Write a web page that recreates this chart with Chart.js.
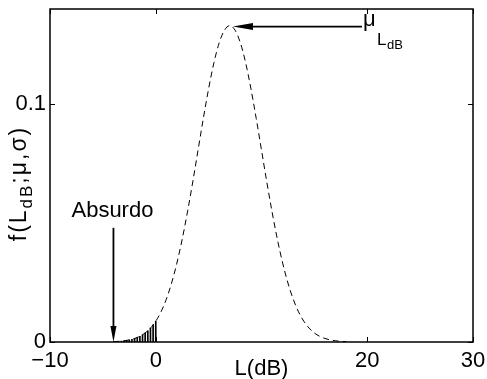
<!DOCTYPE html>
<html>
<head>
<meta charset="utf-8">
<script src="https://cdn.jsdelivr.net/npm/chart.js@4"></script>
<style>
html,body{margin:0;padding:0;background:#fff}
</style>
</head>
<body>
<canvas id="c" width="487" height="379"></canvas>
<script>
// density curve
const xs=[-4,-3.5,-3,-2.5,-2,-1.5,-1,-0.5,0,0.5,1,1.5,2,2.5,3,3.5,4,4.5,5,5.5,6,6.5,7,7.5,8,8.5,9,9.5,10,10.5,11,11.5,12,12.5,13,13.5,14,14.5,15,15.5,16,16.5,17,17.5,18];
const ys=[0.00016,0.00029,0.00051,0.00088,0.00148,0.0024,0.0038,0.00584,0.00874,0.0127,0.018,0.0248,0.0332,0.0432,0.0547,0.0673,0.0807,0.094,0.1065,0.1174,0.1258,0.1311,0.133,0.1311,0.1258,0.1174,0.1065,0.094,0.0807,0.0673,0.0547,0.0432,0.0332,0.0248,0.018,0.0127,0.00874,0.00584,0.0038,0.0024,0.00148,0.00088,0.00051,0.00029,0.00016];
// hatched tail below 0 dB
const hatchX=[-3.25,-3,-2.75,-2.5,-2.25,-2,-1.75,-1.5,-1.25,-1,-0.75,-0.5,-0.25,0];
const hatchY=[0.00038,0.00051,0.00068,0.00088,0.00115,0.00148,0.00189,0.0024,0.00303,0.0038,0.00472,0.00584,0.00717,0.00874];
const xTicks=[-10,0,20,30];
const yTicks=[0,0.1];
const absurdoX=-4, absurdoTop=0.048;
const muArrow={from:19.5,to:7.3,y:0.1326};

const F='"Liberation Sans", Arial, sans-serif';

const deco={
  id:'deco',
  afterDatasetsDraw(ch){
    const c=ch.ctx,a=ch.chartArea,sx=ch.scales.x,sy=ch.scales.y;
    c.save();
    c.strokeStyle='#000';c.fillStyle='#000';
    // box
    c.lineWidth=1.5;
    c.strokeRect(a.left,a.top,a.right-a.left,a.bottom-a.top);
    // inward ticks
    c.lineWidth=1;
    c.beginPath();
    xTicks.forEach(v=>{const p=Math.round(sx.getPixelForValue(v))+0.5;
      c.moveTo(p,a.bottom);c.lineTo(p,a.bottom-5);c.moveTo(p,a.top);c.lineTo(p,a.top+5);});
    yTicks.forEach(v=>{const p=Math.round(sy.getPixelForValue(v))+0.5;
      c.moveTo(a.left,p);c.lineTo(a.left+5,p);c.moveTo(a.right,p);c.lineTo(a.right-5,p);});
    c.stroke();

    // Absurdo arrow
    const ax=sx.getPixelForValue(absurdoX),at=sy.getPixelForValue(absurdoTop),ab=sy.getPixelForValue(0);
    c.lineWidth=1.8;
    c.beginPath();c.moveTo(ax,at);c.lineTo(ax,ab-14);c.stroke();
    c.beginPath();c.moveTo(ax,ab);c.lineTo(ax-3,ab-16);c.lineTo(ax+3,ab-16);c.closePath();c.fill();
    c.font='22px '+F;c.textAlign='center';c.textBaseline='alphabetic';
    c.fillText('Absurdo',ax-1,at-11);

    // mu arrow
    const mx1=sx.getPixelForValue(muArrow.from),mx2=sx.getPixelForValue(muArrow.to),my=sy.getPixelForValue(muArrow.y);
    c.beginPath();c.moveTo(mx1,my);c.lineTo(mx2+18,my);c.stroke();
    c.beginPath();c.moveTo(mx2,my);c.lineTo(mx2+20,my-3.5);c.lineTo(mx2+20,my+3.5);c.closePath();c.fill();
    c.textAlign='left';
    c.font='22px '+F;c.fillText('\u03bc',mx1+1,my-1);
    c.font='17px '+F;c.fillText('L',mx1+15,my+18);
    c.font='13px '+F;c.fillText('dB',mx1+25,my+22);

    // x title
    c.font='22px '+F;c.textAlign='center';
    c.fillText('L(dB)',(a.left+a.right)/2,375);

    // y title with subscript
    c.translate(26,(a.top+a.bottom)/2+8);
    c.rotate(-Math.PI/2);
    c.letterSpacing='2px';
    const parts=[['f(L',23,0],['dB',17,6],[';\u03bc,\u03c3)',23,0]];
    let w=0;parts.forEach(p=>{c.font=p[1]+'px '+F;w+=c.measureText(p[0]).width;});
    let x=-w/2;c.textAlign='left';
    parts.forEach(p=>{c.font=p[1]+'px '+F;c.fillText(p[0],x,p[2]);x+=c.measureText(p[0]).width;});
    c.restore();
  }
};

new Chart(document.getElementById('c'),{
  type:'line',
  data:{datasets:[
    {type:'line',data:xs.map((x,i)=>({x,y:ys[i]})),borderColor:'#000',borderWidth:1,borderDash:[6,4],
     pointRadius:0,fill:false,cubicInterpolationMode:'monotone'},
    {type:'bar',data:hatchX.map((x,i)=>({x,y:hatchY[i]})),backgroundColor:'#000',borderWidth:0,barThickness:1}
  ]},
  options:{
    responsive:false,animation:false,
    layout:{padding:{top:9,right:14,left:0,bottom:0}},
    plugins:{legend:{display:false},tooltip:{enabled:false}},
    scales:{
      x:{type:'linear',min:-10,max:30,offset:false,
        afterFit(s){s.height=37;s.paddingLeft=0;s.paddingRight=0;},
        afterBuildTicks(s){s.ticks=xTicks.map(v=>({value:v}));},
        grid:{display:false,drawTicks:false,offset:false},border:{display:false},
        ticks:{color:'#000',font:{family:F,size:22},padding:6,maxRotation:0,
          callback:v=>v<0?'\u2212'+Math.abs(v):String(v)}},
      y:{type:'linear',min:0,max:0.14,
        afterFit(s){s.width=50;s.paddingTop=0;s.paddingBottom=0;},
        afterBuildTicks(s){s.ticks=yTicks.map(v=>({value:v}));},
        grid:{display:false,drawTicks:false},border:{display:false},
        ticks:{color:'#000',font:{family:F,size:22},padding:4,callback:v=>String(v)}}
    }
  },
  plugins:[deco]
});
</script>
</body>
</html>
